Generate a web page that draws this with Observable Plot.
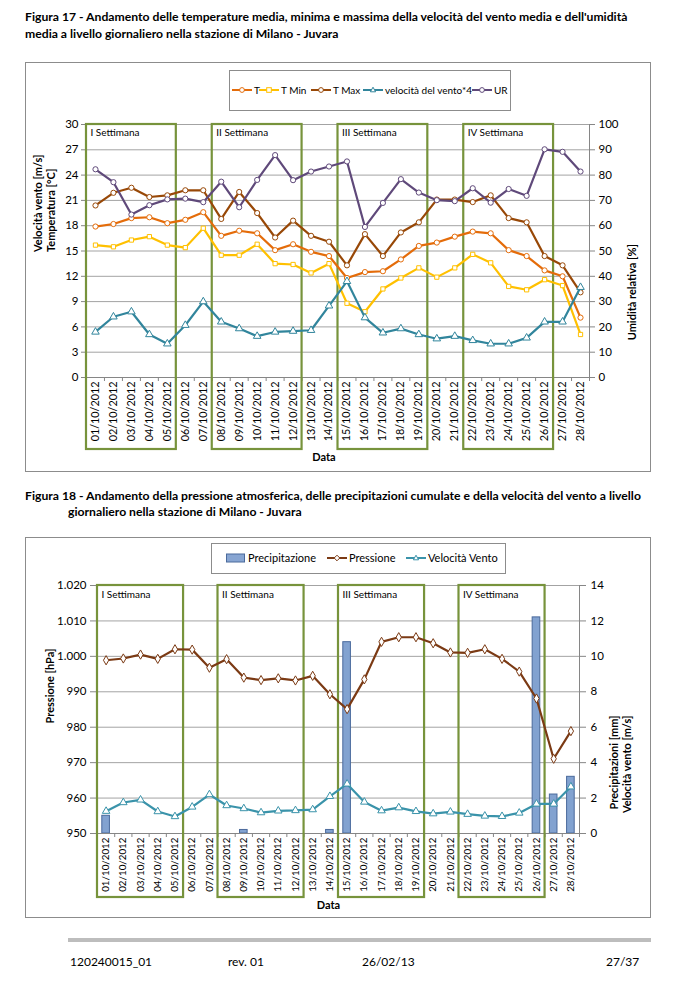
<!DOCTYPE html>
<html><head><meta charset="utf-8">
<script src="https://cdn.jsdelivr.net/npm/d3@7"></script>
<script src="https://cdn.jsdelivr.net/npm/@observablehq/plot@0.6"></script>
<style>
body{margin:0;background:#fff;font-family:Lato,"Open Sans",sans-serif;color:#000;}
#page{position:relative;width:673px;height:984px;overflow:hidden;background:#fff;}
.abs{position:absolute;white-space:nowrap;}
.title{font-weight:bold;font-size:12.2px;line-height:17px;}
.frame{position:absolute;border:1px solid #8c8c8c;box-sizing:border-box;background:#fff;}
.legend{position:absolute;border:1px solid #8c8c8c;background:#fff;box-sizing:border-box;}
.li{position:absolute;white-space:nowrap;}
.li svg{position:absolute;left:0;top:0;overflow:visible;}
.foot{position:absolute;font-size:12px;white-space:nowrap;}
</style></head><body><div id="page"></div>
<script>
// ---------- DATA ----------
const days = ["01/10/2012","02/10/2012","03/10/2012","04/10/2012","05/10/2012","06/10/2012","07/10/2012",
  "08/10/2012","09/10/2012","10/10/2012","11/10/2012","12/10/2012","13/10/2012","14/10/2012",
  "15/10/2012","16/10/2012","17/10/2012","18/10/2012","19/10/2012","20/10/2012","21/10/2012",
  "22/10/2012","23/10/2012","24/10/2012","25/10/2012","26/10/2012","27/10/2012","28/10/2012"];
// Figura 17
const T     = [17.9,18.2,18.9,19.0,18.3,18.7,19.6,16.8,17.4,17.1,15.1,15.8,14.9,14.4,11.8,12.5,12.6,14.0,15.6,16.0,16.7,17.3,17.1,15.1,14.4,12.7,12.0,7.1];
const Tmin  = [15.7,15.5,16.3,16.7,15.7,15.4,17.7,14.5,14.5,15.8,13.5,13.4,12.4,13.5,8.8,7.8,10.5,11.8,13.0,11.9,13.0,14.6,13.6,10.8,10.4,11.6,10.9,5.1];
const Tmax  = [20.4,21.9,22.5,21.4,21.6,22.2,22.2,18.8,22.0,19.5,16.6,18.6,16.8,16.1,13.3,17.0,14.4,17.2,18.4,21.1,21.1,20.8,21.6,18.9,18.4,14.4,13.3,10.1];
const vento4= [5.4,7.2,7.8,5.1,4.0,6.2,9.0,6.6,5.8,4.9,5.4,5.5,5.6,8.5,11.4,7.1,5.3,5.8,5.1,4.6,4.9,4.4,4.0,4.0,4.7,6.6,6.6,10.7];
const UR    = [82.3,77.2,64.4,68.1,70.4,70.7,69.3,77.4,67.3,78.1,87.9,78.0,81.4,83.4,85.4,59.5,69.0,78.4,73.1,70.1,69.7,74.8,69.1,74.5,71.8,90.2,89.2,81.4];
const leftTicks17  = [0,3,6,9,12,15,18,21,24,27,30];
const rightTicks17 = [0,10,20,30,40,50,60,70,80,90,100];
// Figura 18
const pressione = [998.9,999.4,1000.5,999.3,1002.0,1001.9,996.8,999.2,994.0,993.3,993.8,993.2,994.5,989.3,985.1,993.5,1004.1,1005.4,1005.4,1003.7,1001.1,1001.0,1002.0,999.3,995.7,988.1,971.1,978.9];
const vento     = [1.26,1.75,1.9,1.24,0.96,1.5,2.2,1.58,1.41,1.18,1.28,1.3,1.35,2.1,2.8,1.78,1.29,1.46,1.25,1.12,1.22,1.09,0.99,0.97,1.16,1.67,1.67,2.64];
const precip    = [1.0,0,0,0,0,0,0,0,0.2,0,0,0,0,0.2,10.8,0,0,0,0,0,0,0,0,0,0,12.2,2.2,3.2];
const leftTicks18  = [950,960,970,980,990,1000,1010,1020];
const rightTicks18 = [0,2,4,6,8,10,12,14];
// Settimane
const weeks = [
  {label:"I Settimana",   from:"01/10/2012", to:"05/10/2012"},
  {label:"II Settimana",  from:"08/10/2012", to:"12/10/2012"},
  {label:"III Settimana", from:"15/10/2012", to:"19/10/2012"},
  {label:"IV Settimana",  from:"22/10/2012", to:"26/10/2012"}
];

// ---------- HELPERS ----------
const page = document.getElementById("page");
function el(tag, cls, css, html){const e=document.createElement(tag); if(cls) e.className=cls; if(css) e.style.cssText=css; if(html!=null) e.innerHTML=html; page.appendChild(e); return e;}
const idx = d => days.indexOf(d);
const green = "#77933C", grid = "#a3a3a3", axisC = "#868686";
function markerSvg(sym, color){
  if(sym==="circle") return `<circle cx="10" cy="5" r="2.4" fill="#fff" stroke="${color}" stroke-width="1"/>`;
  if(sym==="square") return `<rect x="7.7" y="2.7" width="4.6" height="4.6" fill="#fff" stroke="${color}" stroke-width="1"/>`;
  if(sym==="triangle") return `<path d="M10,2.2L12.6,6.8L7.4,6.8Z" fill="#fff" stroke="${color}" stroke-width="1"/>`;
  if(sym==="diamond") return `<path d="M10,2.2L12.8,5L10,7.8L7.2,5Z" fill="#fff" stroke="${color}" stroke-width="1"/>`;
}
function legendItem(x, y, sym, color, text, fs){
  const d = el("div","li",`left:${x}px;top:${y-6}px;height:12px;font-size:${fs}px;line-height:12px;padding-left:22px;`);
  let svg;
  if(sym==="bar") svg = `<svg width="20" height="12"><rect x="0.5" y="2" width="18" height="8" fill="#87a5d2" stroke="#4a6a9c"/></svg>`;
  else svg = `<svg width="20" height="12"><line x1="0" x2="20" y1="6" y2="6" stroke="${color}" stroke-width="2"/><g transform="translate(0,1)">${markerSvg(sym,color)}</g></svg>`;
  d.innerHTML = svg + text;
  return d;
}
const itFmt = d3.formatLocale({decimal:",", thousands:".", grouping:[3], currency:["€",""]}).format(",");
function series(rows, key, color, symbol, r=2.6){
  return [
    Plot.line(rows,{x:"x", y:key, stroke:color, strokeWidth:2.2}),
    Plot.dot(rows,{x:"x", y:key, stroke:color, fill:"white", r, strokeWidth:1, symbol})
  ];
}

// ---------- TITLES ----------
el("div","abs title","left:25px;top:8px;",
  "Figura 17 - Andamento delle temperature media, minima e massima della velocità del vento media e dell'umidità<br>media a livello giornaliero nella stazione di Milano - Juvara");
el("div","abs title","left:25px;top:487px;",
  "Figura 18 - Andamento della pressione atmosferica, delle precipitazioni cumulate e della velocità del vento a livello");
el("div","abs title","left:68px;top:503px;",
  "giornaliero nella stazione di Milano - Juvara");

// ---------- FIGURA 17 ----------
const urK = 30/100;
const rows17 = days.map((d,i)=>({day:d, x:i+0.5, t:T[i], tmin:Tmin[i], tmax:Tmax[i], v4:vento4[i], ur:UR[i]*urK}));
const c17 = {t:"#E46C0A", tmin:"#FFC000", tmax:"#984807", v:"#31859C", ur:"#5F497A"};
el("div","frame","left:25px;top:62px;width:626px;height:410px;");
const fig17 = Plot.plot({
  width:626, height:410,
  marginTop:62, marginBottom:95, marginLeft:61, marginRight:62,
  x:{domain:[0,28], axis:null},
  y:{domain:[0,30], axis:null},
  style:{fontFamily:"Lato, 'Open Sans', sans-serif", fontSize:"11px", background:"transparent", overflow:"visible", color:"#000"},
  marks:[
    Plot.gridY(leftTicks17,{stroke:grid, strokeOpacity:1}),
    Plot.ruleY([0],{stroke:axisC}),
    Plot.ruleX([0,28],{stroke:axisC}),
    Plot.axisY(leftTicks17,{anchor:"left", tickSize:5, tickPadding:3, stroke:axisC, label:null, fontSize:11.5}),
    Plot.axisY(rightTicks17.map(v=>v*urK),{anchor:"right", tickSize:5, tickPadding:4, stroke:axisC, label:null, tickFormat:d=>Math.round(d/urK), fontSize:11.5}),
    Plot.axisX(d3.range(29),{anchor:"bottom", tickSize:4, stroke:axisC, tickFormat:()=>"", label:null}),
    Plot.axisX(days.map((d,i)=>i+0.5),{anchor:"bottom", tickSize:0, tickPadding:4, tickRotate:-90, tickFormat:d=>days[Math.floor(d)], label:null, fontSize:10.8}),
    Plot.rect(weeks,{x1:d=>idx(d.from), x2:d=>idx(d.to)+1, y1:0, y2:30, insetBottom:-72, stroke:green, strokeWidth:2.2, fill:"none"}),
    Plot.text(weeks,{x:d=>idx(d.from), y:30, text:"label", textAnchor:"start", lineAnchor:"top", dx:4, dy:4, fontSize:10}),
    ...series(rows17,"tmax",c17.tmax,"circle"),
    ...series(rows17,"t",c17.t,"circle"),
    ...series(rows17,"tmin",c17.tmin,"square",2.4),
    ...series(rows17,"v4",c17.v,"triangle",2.8),
    ...series(rows17,"ur",c17.ur,"circle"),
    Plot.text(["Velocità vento [m/s]\nTemperatura [°C]"],{frameAnchor:"left", rotate:-90, dx:-42, dy:1, fontWeight:"bold", fontSize:11, lineHeight:1.12}),
    Plot.text(["Umidità relativa [%]"],{frameAnchor:"right", rotate:-90, dx:43, dy:-7, fontWeight:"bold", fontSize:11}),
    Plot.text(["Data"],{frameAnchor:"bottom", dx:-14, dy:83, fontWeight:"bold", fontSize:11})
  ]
});
fig17.style.position="absolute"; fig17.style.left="25px"; fig17.style.top="62px";
page.appendChild(fig17);
el("div","legend","left:229px;top:70px;width:282px;height:41px;");
legendItem(232,90,"circle",c17.t,"T",10);
legendItem(259,90,"square",c17.tmin,"T Min",10);
legendItem(311,90,"circle",c17.tmax,"T Max",10);
legendItem(363,90,"triangle",c17.v,"velocità del vento*4",10);
legendItem(472,90,"circle",c17.ur,"UR",10);

// ---------- FIGURA 18 ----------
const pK = 5; // 1 unit on the right axis = 5 hPa on the left axis (0..14 ↔ 950..1020)
const toL = v => 950 + v*pK;
const rows18 = days.map((d,i)=>({day:d, i, x:i+0.5, p:pressione[i], v:toL(vento[i]), r:precip[i]}));
const c18 = {p:"#7B3A14", v:"#3A93AA", bar:"#82A2D0", barS:"#4A6A9C"};
el("div","frame","left:25px;top:537px;width:626px;height:381px;");
const fig18 = Plot.plot({
  width:626, height:381,
  marginTop:48, marginBottom:85, marginLeft:72, marginRight:72,
  x:{domain:[0,28], axis:null},
  y:{domain:[950,1020], axis:null},
  style:{fontFamily:"Lato, 'Open Sans', sans-serif", fontSize:"11px", background:"transparent", overflow:"visible", color:"#000"},
  marks:[
    Plot.gridY(leftTicks18,{stroke:grid, strokeOpacity:1}),
    Plot.rect(rows18.filter(d=>d.r>0),{x1:"i", x2:d=>d.i+1, y1:950, y2:d=>toL(d.r), insetLeft:4.8, insetRight:4.8, fill:c18.bar, stroke:c18.barS, strokeWidth:1}),
    Plot.ruleY([950],{stroke:axisC}),
    Plot.ruleX([0,28],{stroke:axisC}),
    Plot.axisY(leftTicks18,{anchor:"left", tickSize:7, tickPadding:4, stroke:axisC, label:null, tickFormat:itFmt, fontSize:11.5}),
    Plot.axisY(rightTicks18.map(toL),{anchor:"right", tickSize:6, tickPadding:5, stroke:axisC, label:null, tickFormat:d=>Math.round((d-950)/pK), fontSize:11.5}),
    Plot.axisX(d3.range(29),{anchor:"bottom", tickSize:4, stroke:axisC, tickFormat:()=>"", label:null}),
    Plot.axisX(days.map((d,i)=>i+0.5),{anchor:"bottom", tickSize:0, tickPadding:4, tickRotate:-90, tickFormat:d=>days[Math.floor(d)], label:null, fontSize:9.8}),
    Plot.rect(weeks,{x1:d=>idx(d.from), x2:d=>idx(d.to)+1, y1:950, y2:1020, insetBottom:-64, stroke:green, strokeWidth:2.2, fill:"none"}),
    Plot.text(weeks,{x:d=>idx(d.from), y:1020, text:"label", textAnchor:"start", lineAnchor:"top", dx:4, dy:5, fontSize:10}),
    ...series(rows18,"p",c18.p,"diamond",2.8),
    ...series(rows18,"v",c18.v,"triangle",2.8),
    Plot.text(["Pressione [hPa]"],{frameAnchor:"left", rotate:-90, dx:-47, dy:14, fontWeight:"bold", fontSize:11}),
    Plot.text(["Precipitazioni [mm]\nVelocità vento [m/s]"],{frameAnchor:"right", rotate:-90, dx:41, dy:6, fontWeight:"bold", fontSize:11, lineHeight:1.12}),
    Plot.text(["Data"],{frameAnchor:"bottom", dx:-10, dy:75, fontWeight:"bold", fontSize:11})
  ]
});
fig18.style.position="absolute"; fig18.style.left="25px"; fig18.style.top="537px";
page.appendChild(fig18);
el("div","legend","left:211px;top:543px;width:295px;height:31px;");
legendItem(226,558,"bar",null,"Precipitazione",11);
legendItem(327,558,"diamond",c18.p,"Pressione",11);
legendItem(406,558,"triangle",c18.v,"Velocità Vento",11);

// ---------- FOOTER ----------
el("div","abs","left:68px;top:938px;width:583px;height:4px;background:#bdbdbd;");
el("div","foot","left:70px;top:954px;","120240015_01");
el("div","foot","left:228px;top:954px;","rev. 01");
el("div","foot","left:362px;top:954px;","26/02/13");
el("div","foot","left:606px;top:954px;","27/37");
</script></body></html>
